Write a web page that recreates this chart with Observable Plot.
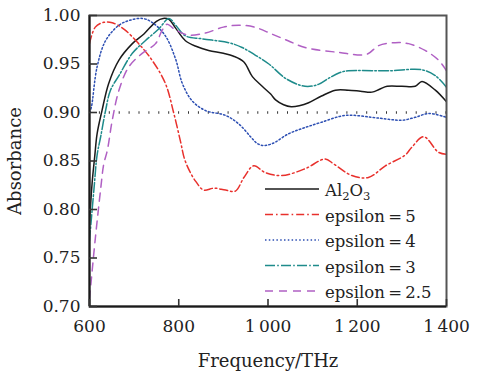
<!DOCTYPE html>
<html>
<head>
<meta charset="utf-8">
<script src="https://cdn.jsdelivr.net/npm/d3@7"></script>
<script src="https://cdn.jsdelivr.net/npm/@observablehq/plot@0.6"></script>
<style>
  html, body { margin: 0; padding: 0; background: #fff; }
  #wrap { position: relative; width: 478px; height: 371px; font-family: "DejaVu Serif", serif; color: #222; }
  #legend { position: absolute; left: 0; top: 0; pointer-events: none; }
  #wrap g[aria-label="x-axis label"], #wrap g[aria-label="y-axis label"] { font-size: 18px; }
</style>
</head>
<body>
<div id="wrap"></div>
<script>
// ---- data ----
const xTicks = [600, 800, 1000, 1200, 1400];
const yTicks = [0.70, 0.75, 0.80, 0.85, 0.90, 0.95, 1.00];
const refLevel = 0.90;

const alFreq = [600, 606, 612, 617, 628, 643, 666, 696, 722, 750, 765, 778, 793, 815, 840, 867, 900, 923, 946, 965, 987, 1006, 1017, 1035, 1052, 1070, 1091, 1120, 1151, 1180, 1207, 1233, 1250, 1267, 1300, 1330, 1345, 1375, 1400];
const alAbs  = [0.786, 0.828, 0.856, 0.878, 0.902, 0.930, 0.954, 0.971, 0.981, 0.994, 0.997, 0.996, 0.987, 0.974, 0.968, 0.964, 0.961, 0.958, 0.952, 0.937, 0.927, 0.919, 0.913, 0.908, 0.906, 0.907, 0.910, 0.917, 0.923, 0.923, 0.922, 0.921, 0.924, 0.927, 0.927, 0.927, 0.932, 0.923, 0.911];

const e5Freq = [600, 613, 632, 651, 677, 710, 740, 770, 789, 804, 813, 825, 838, 856, 879, 905, 927, 946, 968, 994, 1031, 1083, 1128, 1147, 1188, 1225, 1263, 1307, 1322, 1349, 1382, 1400];
const e5Abs  = [0.971, 0.988, 0.993, 0.9925, 0.986, 0.971, 0.954, 0.930, 0.899, 0.870, 0.852, 0.839, 0.829, 0.820, 0.822, 0.820, 0.819, 0.833, 0.845, 0.838, 0.835, 0.842, 0.852, 0.847, 0.835, 0.833, 0.845, 0.856, 0.864, 0.875, 0.859, 0.857];

const e4Freq = [600, 604, 617, 636, 666, 690, 718, 740, 770, 793, 808, 830, 860, 905, 935, 961, 976, 990, 1010, 1046, 1080, 1120, 1173, 1233, 1270, 1300, 1330, 1360, 1400];
const e4Abs  = [0.900, 0.905, 0.947, 0.974, 0.990, 0.995, 0.997, 0.993, 0.979, 0.955, 0.930, 0.912, 0.902, 0.897, 0.888, 0.875, 0.868, 0.866, 0.868, 0.878, 0.884, 0.890, 0.897, 0.895, 0.893, 0.892, 0.895, 0.899, 0.895];

const e3Freq = [600, 610, 617, 625, 636, 647, 666, 696, 725, 755, 778, 793, 815, 852, 912, 942, 972, 1002, 1040, 1083, 1113, 1135, 1160, 1180, 1270, 1345, 1375, 1400];
const e3Abs  = [0.768, 0.821, 0.856, 0.875, 0.902, 0.923, 0.938, 0.961, 0.974, 0.986, 0.997, 0.990, 0.979, 0.976, 0.972, 0.967, 0.959, 0.950, 0.935, 0.927, 0.929, 0.935, 0.941, 0.943, 0.943, 0.944, 0.938, 0.926];

const e25Freq = [600, 613, 625, 632, 640, 651, 666, 688, 718, 748, 763, 774, 790, 820, 860, 900, 935, 970, 1008, 1045, 1083, 1158, 1221, 1248, 1285, 1315, 1352, 1382, 1400];
const e25Abs  = [0.708, 0.770, 0.821, 0.847, 0.861, 0.892, 0.923, 0.947, 0.961, 0.971, 0.985, 0.991, 0.986, 0.980, 0.982, 0.988, 0.990, 0.988, 0.981, 0.974, 0.967, 0.962, 0.960, 0.969, 0.972, 0.971, 0.964, 0.954, 0.943];

const seriesNames = ["Al2O3", "epsilon = 5", "epsilon = 4", "epsilon = 3", "epsilon = 2.5"];
const seriesColors = ["#1a1a1a", "#e8302c", "#2d4fb3", "#1e8b8b", "#b060c4"];
const seriesDash = [null, "8,3,1.6,3", "1.5,2.3", "10,2.2,1.6,2.2", "8,6"];
const seriesFreq = [alFreq, e5Freq, e4Freq, e3Freq, e25Freq];
const seriesAbs = [alAbs, e5Abs, e4Abs, e3Abs, e25Abs];

// ---- layout ----
const W = 478, H = 371;
const mL = 89, mR = 32, mT = 15, mB = 65;
const fontSize = 17;
const legendFont = 16.5;

const fmtX = d => d >= 1000 ? d3.format(",")(d).replace(",", "\u2009") : String(d);

const lineMarks = seriesNames.map((name, i) => {
  const rows = seriesFreq[i].map((f, j) => ({f, a: seriesAbs[i][j]}));
  return Plot.line(rows, {
    x: "f", y: "a", stroke: seriesColors[i], strokeWidth: 1.5,
    strokeDasharray: seriesDash[i] ?? undefined, curve: "catmull-rom", clip: true
  });
});

const chart = Plot.plot({
  width: W, height: H,
  marginLeft: mL, marginRight: mR, marginTop: mT, marginBottom: mB,
  style: {fontFamily: "DejaVu Serif, serif", fontSize: fontSize + "px", color: "#222", background: "#fff"},
  x: {domain: [600, 1400]},
  y: {domain: [0.70, 1.00]},
  marks: [
    Plot.ruleY([refLevel], {stroke: "#333", strokeWidth: 2.5, strokeDasharray: "1,8.9"}),
    ...lineMarks,
    Plot.frame({stroke: "#555", strokeWidth: 2}),
    Plot.ruleX([600], {stroke: "#1a1a1a", strokeWidth: 2}),
    Plot.ruleY([0.70], {stroke: "#1a1a1a", strokeWidth: 2}),
    Plot.axisY({ticks: yTicks, tickSize: -8, fill: "none", label: null, stroke: "#333", strokeWidth: 1.6}),
    Plot.axisY({ticks: yTicks, tickSize: 0, tickPadding: 9, tickFormat: d3.format(".2f"),
                label: "Absorbance", labelAnchor: "center", labelArrow: "none", labelOffset: 81}),
    Plot.axisX({ticks: xTicks, tickSize: -7, fill: "none", label: null, stroke: "#333", strokeWidth: 1.6}),
    Plot.axisX({ticks: xTicks, tickSize: 0, tickPadding: 13, tickFormat: fmtX,
                label: "Frequency/THz", labelAnchor: "center", labelArrow: "none", labelOffset: 60})
  ]
});

const wrap = document.getElementById("wrap");
wrap.appendChild(chart);

// ---- legend overlay ----
const legX = 265, legLineLen = 54, legTextX = 325, legY0 = 189, legStep = 25.5;
const ns = "http://www.w3.org/2000/svg";
const leg = document.createElementNS(ns, "svg");
leg.setAttribute("id", "legend");
leg.setAttribute("width", W);
leg.setAttribute("height", H);
leg.setAttribute("font-family", "DejaVu Serif, serif");
leg.setAttribute("font-size", legendFont);
seriesNames.forEach((name, i) => {
  const y = legY0 + i * legStep;
  const ln = document.createElementNS(ns, "line");
  ln.setAttribute("x1", legX); ln.setAttribute("x2", legX + legLineLen);
  ln.setAttribute("y1", y); ln.setAttribute("y2", y);
  ln.setAttribute("stroke", seriesColors[i]);
  ln.setAttribute("stroke-width", 1.5);
  if (seriesDash[i]) ln.setAttribute("stroke-dasharray", seriesDash[i]);
  leg.appendChild(ln);
  const t = document.createElementNS(ns, "text");
  t.setAttribute("x", legTextX);
  t.setAttribute("y", y + 7);
  t.setAttribute("fill", "#222");
  if (name === "Al2O3") {
    const parts = [["Al", false], ["2", true], ["O", false], ["3", true]];
    for (const [s, sub] of parts) {
      const ts = document.createElementNS(ns, "tspan");
      ts.textContent = s;
      if (sub) { ts.setAttribute("font-size", legendFont * 0.7); ts.setAttribute("dy", "4"); }
      else if (s === "O") { ts.setAttribute("dy", "-4"); }
      t.appendChild(ts);
    }
  } else {
    t.textContent = name.replace(" = ", "\u2009=\u2009");
  }
  leg.appendChild(t);
});
wrap.appendChild(leg);
</script>
</body>
</html>
